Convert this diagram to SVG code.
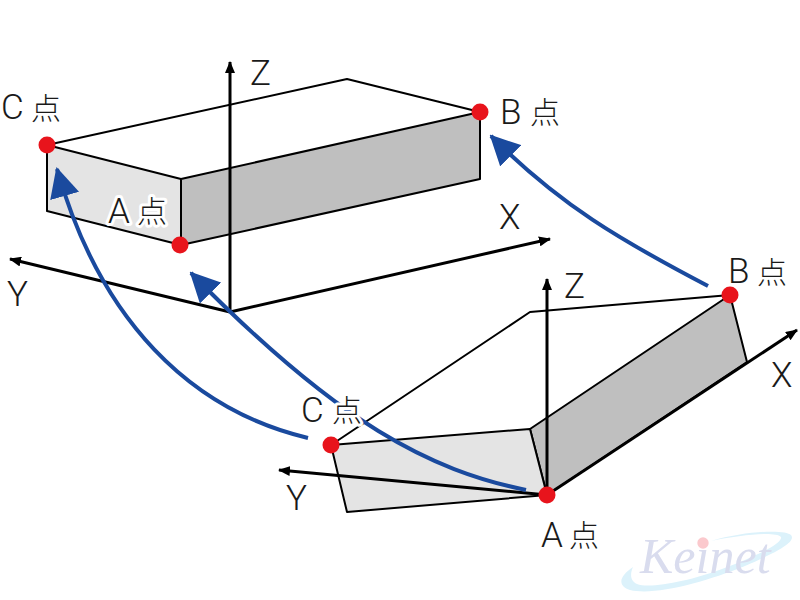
<svg xmlns="http://www.w3.org/2000/svg" width="800" height="600" viewBox="0 0 800 600">
<defs>
<marker id="ah" viewBox="0 0 12 10" refX="11" refY="5" markerWidth="12" markerHeight="10" markerUnits="userSpaceOnUse" orient="auto"><path d="M0 0L12 5L0 10Z" fill="#000"/></marker>
<marker id="bh" viewBox="0 0 30 30" refX="28" refY="15" markerWidth="30" markerHeight="30" markerUnits="userSpaceOnUse" orient="auto"><path d="M0 0L30 15L0 30Z" fill="#1a4a9e"/></marker>
</defs>
<style>
.l{fill:none;stroke:#000;stroke-width:2;stroke-linejoin:round}
.ax{fill:none;stroke:#000;stroke-width:3;marker-end:url(#ah)}
.fl{fill:#e4e4e4;stroke:#000;stroke-width:2;stroke-linejoin:round}
.fd{fill:#bfbfbf;stroke:#000;stroke-width:2;stroke-linejoin:round}
.b{fill:none;stroke:#1a4a9e;stroke-width:4;marker-end:url(#bh)}
.p{fill:#e8141c}
text{font-family:Roboto,"Liberation Sans","Noto Sans CJK JP",sans-serif;font-weight:300;font-size:35px;fill:#1a1a1a;paint-order:stroke;stroke:#fff;stroke-width:6px;stroke-linejoin:round}
.k{font-size:30px;font-family:"Noto Sans CJK JP","Liberation Sans",sans-serif;font-weight:300}
</style>
<g id="watermark">
<path d="M633 567C618 577 618 586 630 590C655 596 705 582 745 566C775 553 797 542 791 535C785 529 745 531 711 541C740 535 775 531 781 537C783 543 755 557 722 569C690 581 650 589 637 584C630 581 630 574 633 567Z" fill="#dcf2fb"/>
<text x="640" y="573" style="font-family:'Liberation Serif',serif;font-style:italic;font-weight:400;font-size:50px;fill:#d9dcee;stroke:none">Keinet</text>
<circle cx="703" cy="543" r="5.700" fill="#fbc9cd"/>
</g>
<g id="box-top">
<path class="l" d="M47 145L347 79L480 112"/>
<path class="fl" d="M47 145L181 179V245L47 211Z"/>
<path class="fd" d="M181 179L480 112V179L181 245Z"/>
</g>
<g id="box-bottom">
<path class="l" d="M331 445L530 312L730 295"/>
<path class="fd" d="M530 429L730 295L747 362L547 495Z"/>
<path class="fl" d="M331 445L530 429L547 495L347 512Z"/>
</g>
<g id="connectors">
<path class="ax" d="M230 312V62"/>
<path class="ax" d="M230 312L10 259"/>
<path class="ax" d="M230 312L550 239"/>
<path class="ax" d="M547 495V279"/>
<path class="ax" d="M547 495L279 470"/>
<path class="ax" d="M547 495L797 330"/>
<path class="b" d="M308 438C190 410 100 320 57 169"/>
<path class="b" d="M526 490C430 470 340 425 191 273"/>
<path class="b" d="M708 286C620 240 560 205 491 136"/>
</g>
<g id="point-C-top"><circle class="p" cx="47" cy="145" r="8.500"/><text x="1" y="119">C</text><text class="k" x="31" y="119">点</text></g>
<g id="point-A-top"><circle class="p" cx="180" cy="245" r="8.500"/><text x="108" y="223">A</text><text class="k" x="137" y="222">点</text></g>
<g id="point-B-top"><circle class="p" cx="480" cy="112" r="8.500"/><text x="500" y="124">B</text><text class="k" x="530" y="123">点</text></g>
<g id="point-C-bottom"><circle class="p" cx="331" cy="445" r="8.500"/><text x="301" y="422">C</text><text class="k" x="332" y="421">点</text></g>
<g id="point-A-bottom"><circle class="p" cx="547" cy="495" r="8.500"/><text x="541" y="547">A</text><text class="k" x="569" y="546">点</text></g>
<g id="point-B-bottom"><circle class="p" cx="730" cy="295" r="8.500"/><text x="728" y="283">B</text><text class="k" x="757" y="283">点</text></g>
<g id="axis-labels">
<text x="250" y="85">Z</text><text x="499" y="229">X</text><text x="7" y="306">Y</text>
<text x="564" y="298">Z</text><text x="771" y="387">X</text><text x="286" y="510">Y</text>
</g>
</svg>
